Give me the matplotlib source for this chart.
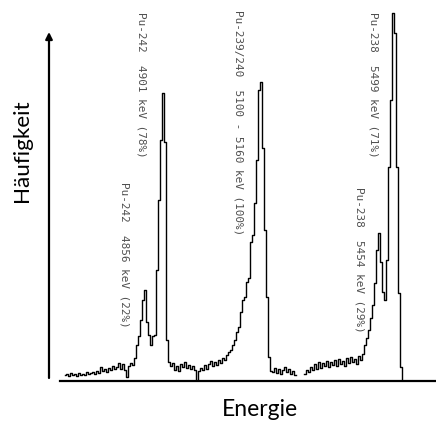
import numpy as np
import matplotlib
matplotlib.use("Agg")
import matplotlib.pyplot as plt

# Alpha spectrum of plutonium isotopes (arbitrary counts per channel)
# Energy channels in keV, about 5.2 keV wide
channel_start = 4646.2
channel_width = 5.2
counts = [
    6, 7, 5, 8, 6, 7, 5, 8, 6, 7,
    6, 9, 7, 8, 9, 7, 10, 8, 14, 10,
    12, 9, 13, 11, 15, 12, 14, 18, 12, 17,
    11, 4, 15, 18, 16, 23, 36, 45, 61, 81,
    91, 59, 46, 36, 45, 46, 111, 181, 241, 288,
    239, 41, 19, 15, 18, 11, 15, 10, 17, 14,
    19, 13, 16, 12, 15, 11, 0, 10, 13, 11,
    16, 12, 17, 20, 15, 19, 16, 21, 18, 23,
    21, 26, 29, 31, 36, 41, 49, 54, 69, 81,
    84, 99, 103, 139, 146, 178, 221, 291, 299, 233,
    151, 84, 24, 10, 9, 13, 8, 12, 7, 11,
    14, 9, 12, 7, 10, 6, np.nan, np.nan, np.nan, np.nan,
    7, 11, 9, 14, 11, 17, 12, 19, 13, 18,
    15, 20, 14, 19, 16, 21, 15, 22, 17, 20,
    15, 23, 18, 24, 19, 22, 17, 25, 21, 27,
    36, 43, 51, 63, 76, 98, 131, 148, 119, 89,
    81, 121, 214, 281, 368, 348, 214, 88, 14, 0,
]
energy = channel_start + channel_width * np.arange(len(counts))

# Peak annotations: (text, energy of label, top of label in counts)
labels = [
    "Pu-242  4901 keV (78%)",
    "Pu-242  4856 keV (22%)",
    "Pu-239/240  5100 - 5160 keV (100%)",
    "Pu-238  5499 keV (71%)",
    "Pu-238  5454 keV (29%)",
]
label_energy = [4846, 4802, 5097, 5449, 5411]
label_top = [369, 199, 371, 369, 194]

fig = plt.figure(figsize=(4.36, 4.22), dpi=100)
ax = fig.add_axes([60 / 436, 41 / 422, 376 / 436, 381 / 422])
ax.plot(energy, counts, color="black", lw=1.0, drawstyle="steps-mid")
ax.set_xlim(4633.2, 5610.8)
ax.set_ylim(0, 381)

for s in ["top", "right", "left"]:
    ax.spines[s].set_visible(False)
ax.spines["bottom"].set_linewidth(1.6)
ax.set_xticks([])
ax.set_yticks([])
ax.patch.set_alpha(0)

for txt, e, top in zip(labels, label_energy, label_top):
    ax.text(e, top, txt, rotation=-90, ha="center", va="top",
            family="DejaVu Sans Mono", fontsize=7.9, color="#4f4f4f")

# y axis arrow left of the spectrum
ax.annotate("", xy=(49, 422 - 32), xytext=(49, 422 - 378),
            xycoords="figure pixels", textcoords="figure pixels",
            arrowprops=dict(arrowstyle="-|>", color="black", lw=1.6,
                            mutation_scale=10, shrinkA=0, shrinkB=0))

fig.text(22 / 436, 1 - 151 / 422, "Häufigkeit", rotation=90, ha="center",
         va="center", family="Lato", fontsize=16.2)
fig.text(260 / 436, 1 - 409 / 422, "Energie", ha="center", va="center",
         family="Lato", fontsize=16.5)

fig.savefig("out.png", dpi=100)
